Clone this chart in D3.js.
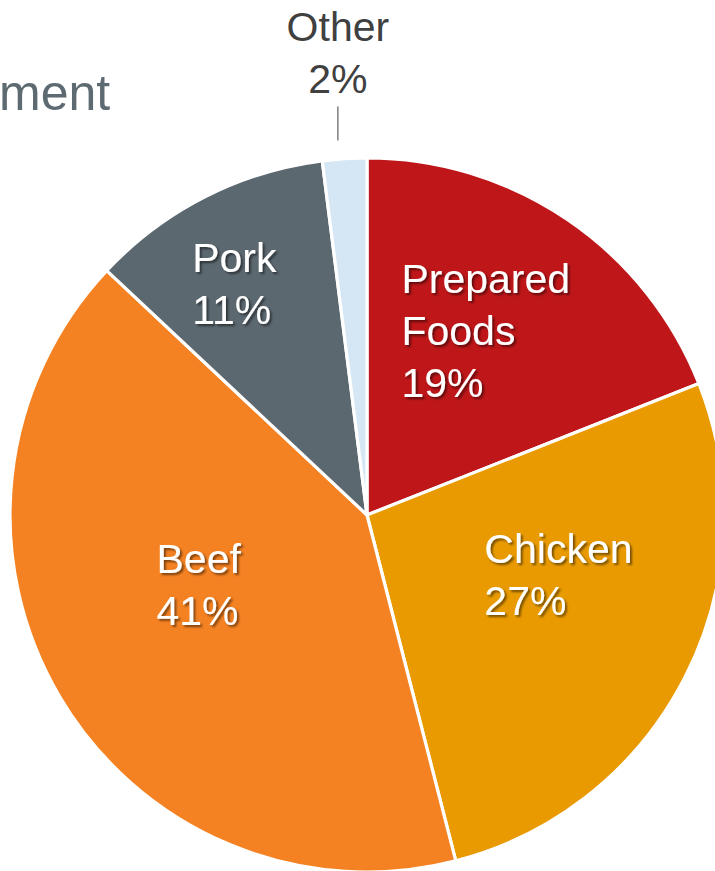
<!DOCTYPE html>
<html>
<head>
<meta charset="utf-8">
<script src="https://cdn.jsdelivr.net/npm/d3@7/dist/d3.min.js"></script>
<style>
  html, body { margin: 0; padding: 0; background: #ffffff; overflow: hidden; }
  svg { display: block; }
  text { font-family: "Liberation Sans", Arial, sans-serif; }
</style>
</head>
<body>
<svg id="chart" width="715" height="871"></svg>
<script>
// ---- Data ----
const categories = ["Prepared Foods", "Chicken", "Beef", "Pork", "Other"];
const values = [19, 27, 41, 11, 2];
const labelNames = [["Prepared", "Foods"], ["Chicken"], ["Beef"], ["Pork"], ["Other"]];
const titleText = "ment";

// ---- Styles / layout (not data) ----
const colors = ["#BE1619", "#E89A00", "#F58222", "#5C6870", "#D5E7F5"];
const labelColors = ["#ffffff", "#ffffff", "#ffffff", "#ffffff", "#404040"];
const labelLayout = {
  "Prepared Foods": { rf: 0.615, shift: -1.45, align: "left", shadow: true },
  "Chicken":        { rf: 0.561, shift: -9.9,  align: "left", shadow: true },
  "Beef":           { rf: 0.51,  shift: 8.2,   align: "left", shadow: true },
  "Pork":           { rf: 0.748, shift: -2.8,  align: "left", shadow: true },
  "Other":          { rf: 1.30,  shift: 0,     align: "center", shadow: false }
};

const W = 715, H = 871;
const cx = 367, cy = 515, R = 357;
const fontSize = 41, lineH = 52, capH = fontSize * 0.716;

const svg = d3.select("#chart");
const defs = svg.append("defs");
const f = defs.append("filter").attr("id", "shadow")
  .attr("x", "-20%").attr("y", "-20%").attr("width", "140%").attr("height", "140%");
f.append("feDropShadow").attr("dx", 2).attr("dy", 2).attr("stdDeviation", 1.3)
  .attr("flood-color", "#000").attr("flood-opacity", 0.5);

// Title fragment
svg.append("text")
  .attr("x", -1).attr("y", 110)
  .attr("font-size", 50)
  .attr("fill", "#5E6A72")
  .text(titleText);

const data = categories.map((c, i) => ({ cat: c, value: values[i], i }));

const pie = d3.pie().sort(null).value(d => d.value).startAngle(0).endAngle(2 * Math.PI);
const arcs = pie(data);
const arc = d3.arc().innerRadius(0).outerRadius(R);

const g = svg.append("g").attr("transform", `translate(${cx},${cy})`);

g.selectAll("path.slice")
  .data(arcs)
  .join("path")
  .attr("class", "slice")
  .attr("d", arc)
  .attr("fill", d => colors[d.data.i])
  .attr("stroke", "#ffffff")
  .attr("stroke-width", 3.2)
  .attr("stroke-linejoin", "round");

// Labels
arcs.forEach(d => {
  const lay = labelLayout[d.data.cat];
  const mid = (d.startAngle + d.endAngle) / 2 + lay.shift * Math.PI / 180;
  const rr = lay.rf * R;
  const px = rr * Math.sin(mid);
  const py = -rr * Math.cos(mid);
  const lines = labelNames[d.data.i].concat([d.data.value + "%"]);
  const blockH = capH + (lines.length - 1) * lineH;
  const firstBase = py - blockH / 2 + capH;

  const lg = g.append("g").attr("class", "label");
  if (lay.shadow) lg.attr("filter", "url(#shadow)");
  const texts = lg.selectAll("text")
    .data(lines)
    .join("text")
    .attr("y", (t, k) => firstBase + k * lineH)
    .attr("font-size", fontSize)
    .attr("fill", labelColors[d.data.i])
    .text(t => t);

  if (lay.align === "center") {
    texts.attr("x", px).attr("text-anchor", "middle");
  } else {
    let maxW = 0;
    texts.each(function () { maxW = Math.max(maxW, this.getComputedTextLength()); });
    texts.attr("x", px - maxW / 2).attr("text-anchor", "start");
  }

  if (d.data.cat === "Other") {
    // leader line under the outside label
    g.append("line")
      .attr("x1", px).attr("x2", px)
      .attr("y1", py + blockH / 2 + 14)
      .attr("y2", py + blockH / 2 + 48)
      .attr("stroke", "#7F7F7F")
      .attr("stroke-width", 1.5);
  }
});
</script>
</body>
</html>
